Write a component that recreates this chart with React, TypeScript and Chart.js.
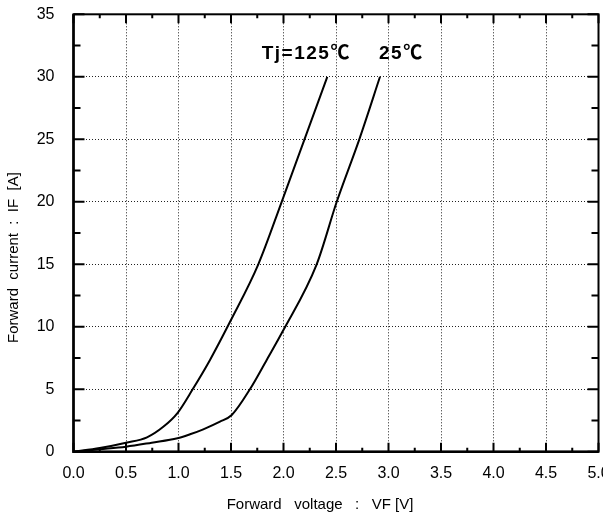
import React, { useEffect, useRef } from "react";
import { Chart, registerables } from "chart.js";
Chart.register(...registerables);

// Tj = 125 ℃ curve
const vf125 = [0, 0.25, 0.5, 0.7, 0.855, 0.99, 1.135, 1.3, 1.497, 1.76, 1.983, 2.2, 2.417];
const if125 = [0, 0.3, 0.73, 1.16, 2.0, 3.1, 5, 7.35, 10.5, 15, 20, 25, 30];
// Tj = 25 ℃ curve
const vf25 = [0, 0.25, 0.5, 0.745, 0.99, 1.11, 1.236, 1.395, 1.507, 1.68, 1.84, 1.99, 2.316, 2.507, 2.722, 2.919];
const if25 = [0, 0.2, 0.41, 0.73, 1.08, 1.4, 1.8, 2.41, 2.94, 5, 7.35, 9.6, 15, 20, 25, 30];

const xTickStep = 0.5;
const yTickStep = 5;
const xMin = 0, xMax = 5, yMin = 0, yMax = 35;
const xTitle = "Forward   voltage   :   VF [V]";
const yTitle = "Forward  current  :  IF  [A]";
const label125 = "Tj=125℃";
const label25 = "25℃";

const W = 603;
const H = 519;
const CW = 640;
const FONT = "'Liberation Sans', Arial, 'Noto Sans CJK JP', sans-serif";

const framePlugin = {
  id: "frameTicks",
  afterDraw(chart: any) {
    const { ctx, chartArea: a, scales } = chart;
    const xs = scales.x, ys = scales.y;
    ctx.save();
    ctx.strokeStyle = "#000";
    // frame
    ctx.lineWidth = 2;
    ctx.strokeRect(a.left, a.top, a.right - a.left, a.bottom - a.top);
    ctx.lineWidth = 2.5;
    ctx.beginPath();
    ctx.moveTo(a.left, a.top);
    ctx.lineTo(a.left, a.bottom);
    ctx.lineTo(a.right, a.bottom);
    ctx.stroke();
    // inward ticks
    ctx.lineWidth = 2;
    ctx.beginPath();
    const nx = Math.round((xMax - xMin) / (xTickStep / 2));
    for (let i = 0; i <= nx; i++) {
      const v = xMin + (i * xTickStep) / 2;
      const px = xs.getPixelForValue(v);
      const len = i % 2 === 0 ? 9 : 4;
      ctx.moveTo(px, a.bottom);
      ctx.lineTo(px, a.bottom - len);
      ctx.moveTo(px, a.top);
      ctx.lineTo(px, a.top + len);
    }
    const ny = Math.round((yMax - yMin) / (yTickStep / 2));
    for (let i = 0; i <= ny; i++) {
      const v = yMin + (i * yTickStep) / 2;
      const py = ys.getPixelForValue(v);
      const len = i % 2 === 0 ? 11 : 7;
      ctx.moveTo(a.left, py);
      ctx.lineTo(a.left + len, py);
      ctx.moveTo(a.right, py);
      ctx.lineTo(a.right - len, py);
    }
    ctx.stroke();

    // axis titles
    ctx.fillStyle = "#000";
    ctx.font = "15px " + FONT;
    ctx.textBaseline = "alphabetic";
    ctx.textAlign = "left";
    ctx.fillText(xTitle, 226.7, 508.5);
    ctx.save();
    ctx.translate(18.3, 343);
    ctx.rotate(-Math.PI / 2);
    ctx.fillText(yTitle, 0, 0);
    ctx.restore();

    // curve labels
    ctx.font = "bold 19px " + FONT;
    (ctx as any).letterSpacing = "1.5px";
    ctx.fillText(label125, 261.7, 59.3);
    ctx.fillText(label25, 379, 59.3);
    ctx.restore();
  },
};

export default function App() {
  const ref = useRef<HTMLCanvasElement>(null);
  useEffect(() => {
    if (!ref.current) return;
    const chart = new Chart(ref.current, {
      type: "scatter",
      data: {
        datasets: [
          {
            label: "125",
            data: vf125.map((v, i) => ({ x: v, y: if125[i] })),
            showLine: true,
            borderColor: "#000",
            borderWidth: 2,
            pointRadius: 0,
            cubicInterpolationMode: "monotone",
          },
          {
            label: "25",
            data: vf25.map((v, i) => ({ x: v, y: if25[i] })),
            showLine: true,
            borderColor: "#000",
            borderWidth: 2,
            pointRadius: 0,
            cubicInterpolationMode: "monotone",
          },
        ],
      },
      options: {
        responsive: false,
        animation: false,
        devicePixelRatio: 1,
        layout: { padding: { top: 14.3, right: CW - 598.5, left: 0, bottom: 0 } },
        plugins: { legend: { display: false }, tooltip: { enabled: false } },
        scales: {
          x: {
            type: "linear",
            min: xMin,
            max: xMax,
            afterFit: (s: any) => { s.height = H - 451.8; },
            ticks: {
              stepSize: xTickStep,
              callback: (v: any) => Number(v).toFixed(1),
              color: "#000",
              font: { size: 16, family: FONT },
              padding: 0,
              maxRotation: 0,
            },
            grid: { color: "#222", lineWidth: 1, drawTicks: true, tickLength: 12, tickColor: "rgba(0,0,0,0)" },
            border: { display: false, dash: [1, 2] },
          },
          y: {
            type: "linear",
            min: yMin,
            max: yMax,
            afterFit: (s: any) => { s.width = 73.5; },
            ticks: {
              stepSize: yTickStep,
              color: "#000",
              font: { size: 16, family: FONT },
              padding: 0,
            },
            grid: { color: "#222", lineWidth: 1, drawTicks: true, tickLength: 19, tickColor: "rgba(0,0,0,0)" },
            border: { display: false, dash: [1, 2] },
          },
        },
      },
      plugins: [framePlugin],
    });
    return () => chart.destroy();
  }, []);
  return (
    <div style={{ position: "fixed", left: 0, top: 0, width: W, height: H, overflow: "hidden", background: "#fff" }}>
      <canvas ref={ref} width={CW} height={H} style={{ display: "block" }} />
    </div>
  );
}
